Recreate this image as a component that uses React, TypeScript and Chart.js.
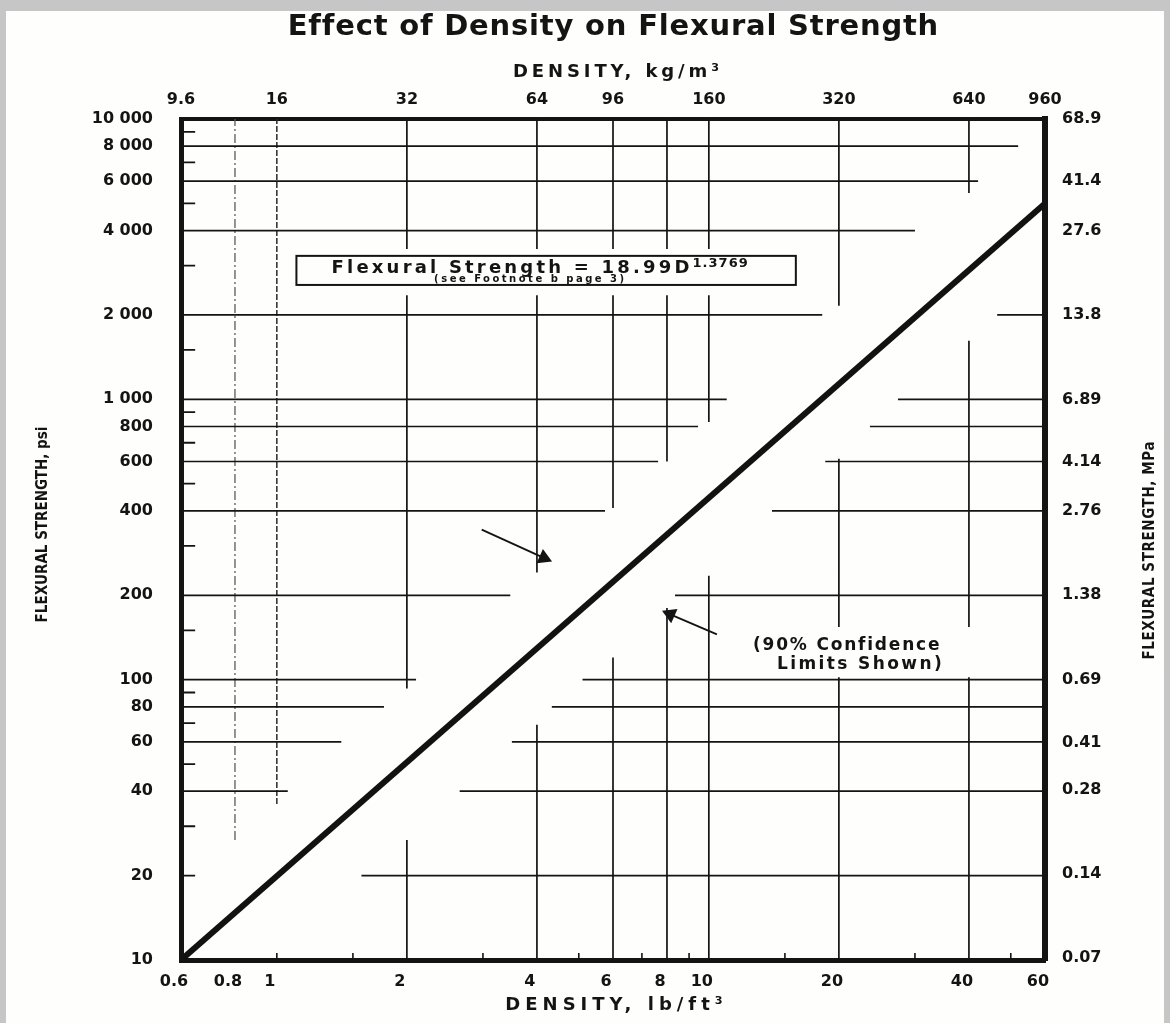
import React, { useEffect, useRef } from "react";
import { Chart, registerables } from "chart.js";
Chart.register(...registerables);

// ---- axis ticks ----
const xTicks = [0.6, 0.8, 1, 2, 4, 6, 8, 10, 20, 40, 60];
const xTickLabels = ["0.6", "0.8", "1", "2", "4", "6", "8", "10", "20", "40", "60"];
const topTicks = [9.6, 16, 32, 64, 96, 160, 320, 640, 960];
const topTickLabels = ["9.6", "16", "32", "64", "96", "160", "320", "640", "960"];
const yTicks = [10000, 8000, 6000, 4000, 2000, 1000, 800, 600, 400, 200, 100, 80, 60, 40, 20, 10];
const yTickLabels = ["10 000", "8 000", "6 000", "4 000", "2 000", "1 000", "800", "600", "400", "200", "100", "80", "60", "40", "20", "10"];
const mpaTicks = [68.9, 41.4, 27.6, 13.8, 6.89, 4.14, 2.76, 1.38, 0.69, 0.41, 0.28, 0.14, 0.07];
const mpaTickLabels = ["68.9", "41.4", "27.6", "13.8", "6.89", "4.14", "2.76", "1.38", "0.69", "0.41", "0.28", "0.14", "0.07"];

// minor tick marks (inside the frame)
const leftMinorTicks = [9000, 7000, 5000, 3000, 1500, 900, 700, 500, 300, 150, 90, 70, 50, 30, 20];
const bottomMinorTicks = [1, 1.5, 3, 5, 7, 9, 15, 30, 50];

// ---- fitted line: Flexural Strength vs Density ----
const lineDensity = [0.6, 60];
const lineStrength = [10, 5000];

// ---- broken grid (gaps = 90% confidence band) ----
const hGridY = [8000, 6000, 4000, 2000, 1000, 800, 600, 400, 200, 100, 80, 60, 40, 20];
const hGridLeftEnd = [52, 42, 30, 18.3, 11, 9.44, 7.63, 5.75, 3.47, 2.1, 1.77, 1.41, 1.06, null];
const hGridRightStart = [null, null, null, 46.5, 27.4, 23.6, 18.6, 14, 8.35, 5.1, 4.33, 3.5, 2.65, 1.57];

const vSegX = [2, 2, 2, 4, 4, 4, 6, 6, 6, 8, 8, 8, 10, 10, 10, 20, 20, 20, 40, 40, 40];
const vSegLow = [3440, 93, 10, 3440, 241, 10, 3440, 410, 10, 3440, 600, 10, 3440, 830, 10, 2155, 154, 10, 5446, 154, 10];
const vSegHigh = [10000, 2350, 26.8, 10000, 2350, 69, 10000, 2350, 120, 10000, 2350, 180, 10000, 2350, 235, 10000, 614, 102, 10000, 1618, 102];

const dashX = [0.8, 1];
const dashLow = [26.8, 36];
const dashHigh = [10000, 10000];

const X_MIN = 0.6, X_MAX = 60, Y_MIN = 10, Y_MAX = 10000;
const PSI_TO_MPA = 0.006895;

// annotation anchors (data coordinates)
const arrow1 = [{ x: 2.98, y: 343 }, { x: 4.15, y: 272 }];
const arrow2 = [{ x: 10.44, y: 145 }, { x: 8.14, y: 171 }];
const eqBox = { x0: 1.11, x1: 15.9, yTop: 3249, yBottom: 2559 };
const confLines = [
  { text: "(90% Confidence", x: 20.8, y: 132.5 },
  { text: "Limits Shown)", x: 22.3, y: 113.4 },
];

type P = { x: number; y: number | null };

function hSegments(): P[] {
  const pts: P[] = [];
  hGridY.forEach((y, i) => {
    const le = hGridLeftEnd[i];
    const rs = hGridRightStart[i];
    if (le != null) pts.push({ x: X_MIN, y }, { x: le, y }, { x: le, y: null });
    if (rs != null) pts.push({ x: rs, y }, { x: X_MAX, y }, { x: X_MAX, y: null });
  });
  return pts;
}
function vSegments(xs: number[], lo: number[], hi: number[]): P[] {
  const pts: P[] = [];
  xs.forEach((x, i) => {
    pts.push({ x, y: lo[i] }, { x, y: hi[i] }, { x, y: null });
  });
  return pts;
}
function leftTickSegs(): P[] {
  const pts: P[] = [];
  leftMinorTicks.forEach((y) => pts.push({ x: X_MIN, y }, { x: 0.647, y }, { x: 0.647, y: null }));
  return pts;
}
function bottomTickSegs(): P[] {
  const pts: P[] = [];
  bottomMinorTicks.forEach((x) => pts.push({ x, y: Y_MIN }, { x, y: 10.6 }, { x, y: null }));
  return pts;
}

const INK = "#141414";
const SANS = "'DejaVu Sans', sans-serif";
const LABEL_FONT = { family: SANS, size: 16, weight: "bold" as const };
const COND = "'DejaVu Sans Condensed', 'Liberation Sans Narrow', 'DejaVu Sans', sans-serif";

const paperPlugin = {
  id: "paper",
  beforeDraw(chart: any) {
    const { ctx, width, height } = chart;
    ctx.save();
    ctx.fillStyle = "#c6c6c6";
    ctx.fillRect(0, 0, width, height);
    ctx.fillStyle = "#fefefc";
    ctx.fillRect(6, 11, width - 12, height - 11);
    ctx.restore();
  },
};

function spaced(ctx: any, text: string, x: number, y: number, font: string, spacing: number, align: "left" | "center" = "center") {
  ctx.font = font;
  ctx.letterSpacing = `${spacing}px`;
  const w = ctx.measureText(text).width - spacing;
  const sx = align === "center" ? x - w / 2 : x;
  ctx.textAlign = "left";
  ctx.fillText(text, sx, y);
  return w;
}

const notesPlugin = {
  id: "notes",
  afterDraw(chart: any) {
    const { ctx, scales, chartArea } = chart;
    const xs = scales.x, ys = scales.y;
    const px = (v: number) => xs.getPixelForValue(v);
    const py = (v: number) => ys.getPixelForValue(v);
    const midX = (chartArea.left + chartArea.right) / 2;
    const midY = (chartArea.top + chartArea.bottom) / 2;
    ctx.save();
    ctx.fillStyle = INK;
    ctx.textBaseline = "middle";
    // title and horizontal axis titles
    spaced(ctx, "Effect of Density on Flexural Strength", midX, 27, `bold 29px ${SANS}`, 0.8);
    spaced(ctx, "DENSITY, kg/m³", midX + 3, 72, `bold 18px ${SANS}`, 3.9);
    spaced(ctx, "DENSITY, lb/ft³", midX + 1, 1005, `bold 18px ${SANS}`, 5);

    // equation box
    const bx0 = px(eqBox.x0), bx1 = px(eqBox.x1), by0 = py(eqBox.yTop), by1 = py(eqBox.yBottom);
    ctx.fillStyle = "#fefefc";
    ctx.fillRect(bx0, by0, bx1 - bx0, by1 - by0);
    ctx.strokeStyle = INK;
    ctx.lineWidth = 2;
    ctx.strokeRect(bx0, by0, bx1 - bx0, by1 - by0);
    ctx.fillStyle = INK;
    ctx.textBaseline = "alphabetic";
    const main = "Flexural Strength = 18.99D";
    const sup = "1.3769";
    const fMain = `bold 18px ${SANS}`, fSup = `bold 13px ${SANS}`;
    ctx.font = fMain; ctx.letterSpacing = "3.2px";
    const wMain = ctx.measureText(main).width;
    ctx.font = fSup; ctx.letterSpacing = "1px";
    const wSup = ctx.measureText(sup).width;
    const cx = (bx0 + bx1) / 2 - 6;
    const sx = cx - (wMain + wSup) / 2;
    spaced(ctx, main, sx, by0 + 17, fMain, 3.2, "left");
    spaced(ctx, sup, sx + wMain, by0 + 11, fSup, 1, "left");
    spaced(ctx, "(see Footnote b page 3)", cx - 11, by0 + 26, `bold 10px ${SANS}`, 2.5);

    // confidence note
    ctx.textBaseline = "middle";
    spaced(ctx, confLines[0].text, px(confLines[0].x), py(confLines[0].y), `bold 17px ${SANS}`, 1.8);
    spaced(ctx, confLines[1].text, px(confLines[1].x), py(confLines[1].y), `bold 17px ${SANS}`, 2.4);

    // vertical axis titles (both read bottom-to-top)
    const fAx = `bold 15px ${COND}`;
    ctx.save();
    ctx.translate(43, midY - 15);
    ctx.rotate(-Math.PI / 2);
    spaced(ctx, "FLEXURAL STRENGTH, psi", 0, 0, fAx, 0);
    ctx.restore();
    ctx.save();
    ctx.translate(1150, midY + 11);
    ctx.rotate(-Math.PI / 2);
    spaced(ctx, "FLEXURAL STRENGTH, MPa", 0, 0, fAx, 0.6);
    ctx.restore();
    ctx.letterSpacing = "0px";
    ctx.restore();
  },
};

export default function App() {
  const ref = useRef<HTMLCanvasElement | null>(null);
  useEffect(() => {
    if (!ref.current) return;
    const lineData = lineDensity.map((x, i) => ({ x, y: lineStrength[i] }));
    const chart = new Chart(ref.current, {
      type: "line",
      data: {
        datasets: [
          { data: hSegments() as any, borderColor: INK, borderWidth: 1.7, pointRadius: 0, spanGaps: false },
          { data: vSegments(vSegX, vSegLow, vSegHigh) as any, borderColor: INK, borderWidth: 1.7, pointRadius: 0, spanGaps: false },
          { data: vSegments([dashX[0]], [dashLow[0]], [dashHigh[0]]) as any, borderColor: "#5a5a5a", borderWidth: 1.3, borderDash: [9, 3, 2, 3], pointRadius: 0 },
          { data: vSegments([dashX[1]], [dashLow[1]], [dashHigh[1]]) as any, borderColor: "#2a2a2a", borderWidth: 1.5, borderDash: [6, 2], pointRadius: 0 },
          { data: leftTickSegs() as any, borderColor: INK, borderWidth: 1.8, pointRadius: 0, spanGaps: false },
          { data: bottomTickSegs() as any, borderColor: INK, borderWidth: 1.6, pointRadius: 0, spanGaps: false },
          {
            data: arrow1 as any, borderColor: INK, borderWidth: 1.8,
            pointRadius: [0, 9], pointStyle: "triangle", pointRotation: [0, 114],
            pointBackgroundColor: INK, pointBorderColor: INK, pointBorderWidth: 0,
          },
          {
            data: arrow2 as any, borderColor: INK, borderWidth: 1.8,
            pointRadius: [0, 9], pointStyle: "triangle", pointRotation: [0, 294],
            pointBackgroundColor: INK, pointBorderColor: INK, pointBorderWidth: 0,
          },
          { label: "Flexural Strength = 18.99D^1.3769", data: lineData as any, borderColor: "#121212", borderWidth: 6, pointRadius: 0, borderCapStyle: "butt" },
        ],
      },
      options: {
        animation: false,
        responsive: false,
        events: [],
        layout: { padding: 0 },
        plugins: {
          legend: { display: false },
          tooltip: { enabled: false },
          title: { display: false },
        },
        scales: {
          x: {
            type: "logarithmic", position: "bottom", min: X_MIN, max: X_MAX,
            afterBuildTicks: (s: any) => { s.ticks = xTicks.map((v) => ({ value: v })); },
            afterFit: (s: any) => { s.height = 63; },
            grid: { display: false, drawTicks: false },
            border: { display: true, width: 5, color: INK },
            ticks: {
              autoSkip: false, maxRotation: 0, padding: 12, color: INK, font: LABEL_FONT, labelOffset: -7,
              callback: (v: any) => { const i = xTicks.indexOf(Number(v)); return i >= 0 ? xTickLabels[i] : ""; },
            },
          },
          x2: {
            type: "logarithmic", position: "top", min: 9.6, max: 960,
            afterBuildTicks: (s: any) => { s.ticks = topTicks.map((v) => ({ value: v })); },
            afterFit: (s: any) => { s.height = 119; },
            grid: { display: false, drawTicks: false },
            border: { display: true, width: 4, color: INK },
            ticks: {
              autoSkip: false, maxRotation: 0, padding: 10, color: INK, font: LABEL_FONT,
              callback: (v: any) => { const i = topTicks.indexOf(Number(v)); return i >= 0 ? topTickLabels[i] : ""; },
            },
          },
          y: {
            type: "logarithmic", position: "left", min: Y_MIN, max: Y_MAX,
            afterBuildTicks: (s: any) => { s.ticks = yTicks.map((v) => ({ value: v })); },
            afterFit: (s: any) => { s.width = 181; },
            grid: { display: false, drawTicks: false },
            border: { display: true, width: 5, color: INK },
            ticks: {
              autoSkip: false, padding: 28, color: INK, font: LABEL_FONT,
              callback: (v: any) => { const i = yTicks.indexOf(Number(v)); return i >= 0 ? yTickLabels[i] : ""; },
            },
          },
          y2: {
            type: "logarithmic", position: "right", min: Y_MIN * PSI_TO_MPA, max: Y_MAX * PSI_TO_MPA,
            afterBuildTicks: (s: any) => { s.ticks = mpaTicks.map((v) => ({ value: v })); },
            afterFit: (s: any) => { s.width = 125; },
            grid: { display: false, drawTicks: false },
            border: { display: true, width: 6, color: INK },
            ticks: {
              autoSkip: false, padding: 17, color: INK, font: LABEL_FONT,
              callback: (v: any) => { const i = mpaTicks.indexOf(Number(v)); return i >= 0 ? mpaTickLabels[i] : ""; },
            },
          },
        },
      } as any,
      plugins: [paperPlugin, notesPlugin],
    });
    return () => chart.destroy();
  }, []);
  return (
    <div style={{ position: "absolute", left: 0, top: 0, width: 1170, height: 1023 }}>
      <canvas ref={ref} width={1170} height={1023} style={{ display: "block" }} />
    </div>
  );
}
